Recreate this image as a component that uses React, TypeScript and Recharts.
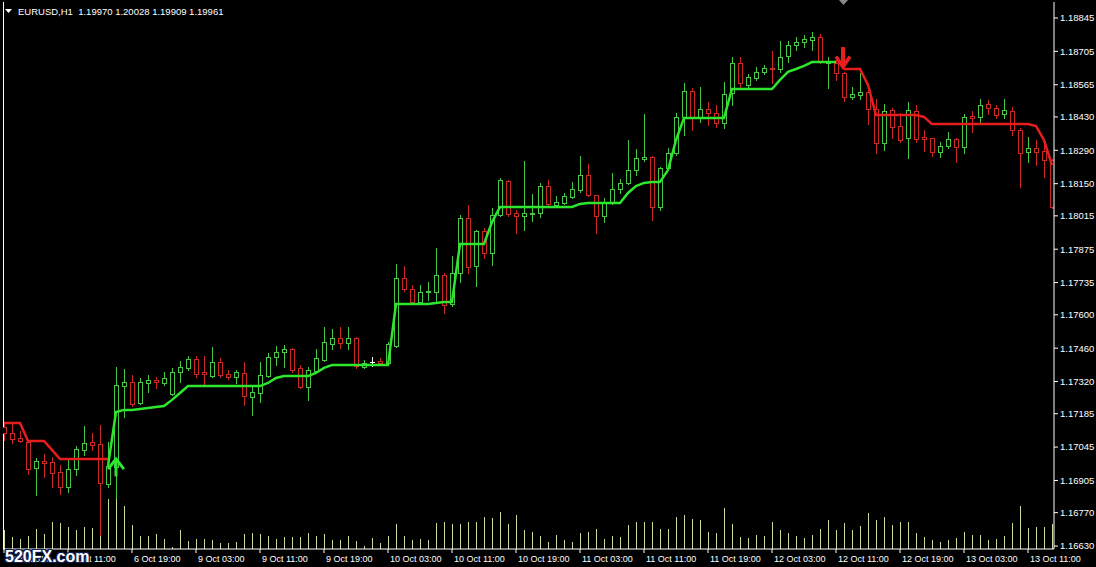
import React from 'react';
import { ComposedChart, Bar, Line, Scatter, XAxis, YAxis } from 'recharts';

// ---- Data (EURUSD H1) ----
const opens = [
  1.17129, 1.17104, 1.17083, 1.17066, 1.16957, 1.16987, 1.16982, 1.16941, 1.16878, 1.16953,
  1.17033, 1.17066, 1.17058, 1.16890, 1.16961, 1.17301, 1.17318, 1.17230, 1.17314, 1.17326,
  1.17314, 1.17268, 1.17360, 1.17377, 1.17415, 1.17360, 1.17343, 1.17402, 1.17352, 1.17339,
  1.17356, 1.17255, 1.17272, 1.17343, 1.17423, 1.17444, 1.17457, 1.17377, 1.17297, 1.17364,
  1.17410, 1.17477, 1.17503, 1.17482, 1.17503, 1.17381, 1.17402, 1.17406, 1.17398, 1.17469,
  1.17754, 1.17708, 1.17654, 1.17696, 1.17696, 1.17767, 1.17645, 1.17775, 1.18006, 1.17805,
  1.17952, 1.17859, 1.18019, 1.18161, 1.18027, 1.18014, 1.18023, 1.18027, 1.18140, 1.18061,
  1.18069, 1.18094, 1.18124, 1.18186, 1.18103, 1.18014, 1.18069, 1.18128, 1.18153, 1.18207,
  1.18254, 1.18262, 1.18052, 1.18216, 1.18279, 1.18430, 1.18539, 1.18430, 1.18463, 1.18447,
  1.18405, 1.18530, 1.18656, 1.18564, 1.18593, 1.18619, 1.18635, 1.18631, 1.18686, 1.18732,
  1.18744, 1.18753, 1.18765, 1.18656, 1.18656, 1.18614, 1.18514, 1.18522, 1.18535, 1.18463,
  1.18321, 1.18459, 1.18392, 1.18342, 1.18455, 1.18346, 1.18342, 1.18283, 1.18308, 1.18337,
  1.18304, 1.18434, 1.18430, 1.18484, 1.18468, 1.18442, 1.18455, 1.18375, 1.18283, 1.18300,
  1.18287, 1.18249,
];
const highs = [
  1.17146, 1.17142, 1.17113, 1.17071, 1.16999, 1.17016, 1.17003, 1.16970, 1.16995, 1.17050,
  1.17133, 1.17104, 1.17138, 1.17066, 1.17381, 1.17373, 1.17347, 1.17335, 1.17347, 1.17339,
  1.17360, 1.17377, 1.17406, 1.17427, 1.17427, 1.17427, 1.17465, 1.17419, 1.17368, 1.17368,
  1.17402, 1.17297, 1.17402, 1.17440, 1.17469, 1.17473, 1.17461, 1.17389, 1.17381, 1.17457,
  1.17549, 1.17540, 1.17549, 1.17549, 1.17507, 1.17410, 1.17423, 1.17419, 1.17486, 1.17813,
  1.17805, 1.17725, 1.17725, 1.17738, 1.17880, 1.17775, 1.17847, 1.18019, 1.18061, 1.17956,
  1.17964, 1.18048, 1.18174, 1.18165, 1.18040, 1.18245, 1.18107, 1.18153, 1.18165, 1.18098,
  1.18111, 1.18157, 1.18266, 1.18233, 1.18103, 1.18090, 1.18195, 1.18170, 1.18333, 1.18296,
  1.18442, 1.18266, 1.18220, 1.18300, 1.18447, 1.18572, 1.18551, 1.18556, 1.18493, 1.18480,
  1.18577, 1.18681, 1.18681, 1.18610, 1.18640, 1.18648, 1.18707, 1.18749, 1.18749, 1.18765,
  1.18774, 1.18786, 1.18778, 1.18681, 1.18677, 1.18619, 1.18556, 1.18614, 1.18556, 1.18505,
  1.18484, 1.18468, 1.18447, 1.18493, 1.18480, 1.18375, 1.18342, 1.18325, 1.18367, 1.18342,
  1.18442, 1.18455, 1.18505, 1.18501, 1.18480, 1.18505, 1.18472, 1.18384, 1.18346, 1.18333,
  1.18321, 1.18254,
];
const lows = [
  1.17075, 1.17062, 1.17066, 1.16932, 1.16844, 1.16920, 1.16878, 1.16848, 1.16857, 1.16928,
  1.17012, 1.17033, 1.16676, 1.16878, 1.16831, 1.17171, 1.17217, 1.17226, 1.17276, 1.17293,
  1.17305, 1.17264, 1.17318, 1.17368, 1.17339, 1.17305, 1.17339, 1.17339, 1.17331, 1.17314,
  1.17222, 1.17180, 1.17234, 1.17339, 1.17389, 1.17381, 1.17360, 1.17293, 1.17243, 1.17360,
  1.17406, 1.17457, 1.17461, 1.17457, 1.17377, 1.17377, 1.17385, 1.17389, 1.17394, 1.17465,
  1.17700, 1.17649, 1.17649, 1.17662, 1.17654, 1.17608, 1.17637, 1.17738, 1.17775, 1.17721,
  1.17838, 1.17809, 1.18014, 1.18014, 1.17943, 1.17956, 1.17993, 1.18010, 1.18056, 1.18056,
  1.18065, 1.18090, 1.18115, 1.18098, 1.17943, 1.17989, 1.18065, 1.18111, 1.18149, 1.18186,
  1.18245, 1.17998, 1.18040, 1.18207, 1.18270, 1.18354, 1.18375, 1.18409, 1.18396, 1.18388,
  1.18384, 1.18480, 1.18551, 1.18547, 1.18585, 1.18610, 1.18572, 1.18619, 1.18660, 1.18711,
  1.18723, 1.18711, 1.18656, 1.18551, 1.18585, 1.18497, 1.18505, 1.18505, 1.18400, 1.18279,
  1.18291, 1.18342, 1.18325, 1.18258, 1.18325, 1.18287, 1.18266, 1.18262, 1.18300, 1.18241,
  1.18279, 1.18367, 1.18409, 1.18442, 1.18426, 1.18426, 1.18354, 1.18136, 1.18241, 1.18228,
  1.18178, 1.18048,
];
const closes = [
  1.17104, 1.17079, 1.17071, 1.16953, 1.16987, 1.16978, 1.16936, 1.16878, 1.16953, 1.17037,
  1.17062, 1.17054, 1.16894, 1.16966, 1.17305, 1.17318, 1.17226, 1.17318, 1.17326, 1.17318,
  1.17335, 1.17360, 1.17381, 1.17415, 1.17352, 1.17352, 1.17402, 1.17347, 1.17339, 1.17360,
  1.17259, 1.17276, 1.17347, 1.17423, 1.17444, 1.17457, 1.17368, 1.17297, 1.17368, 1.17419,
  1.17486, 1.17503, 1.17482, 1.17503, 1.17385, 1.17398, 1.17402, 1.17398, 1.17477, 1.17754,
  1.17708, 1.17654, 1.17696, 1.17700, 1.17767, 1.17641, 1.17775, 1.18006, 1.17800, 1.17952,
  1.17859, 1.18019, 1.18165, 1.18023, 1.18014, 1.18027, 1.18027, 1.18140, 1.18065, 1.18073,
  1.18098, 1.18128, 1.18186, 1.18103, 1.18014, 1.18073, 1.18128, 1.18153, 1.18207, 1.18258,
  1.18262, 1.18052, 1.18216, 1.18279, 1.18430, 1.18539, 1.18430, 1.18463, 1.18447, 1.18405,
  1.18526, 1.18656, 1.18572, 1.18598, 1.18619, 1.18635, 1.18631, 1.18681, 1.18732, 1.18744,
  1.18757, 1.18765, 1.18660, 1.18660, 1.18614, 1.18514, 1.18526, 1.18535, 1.18463, 1.18321,
  1.18455, 1.18388, 1.18333, 1.18459, 1.18337, 1.18337, 1.18283, 1.18308, 1.18337, 1.18304,
  1.18430, 1.18426, 1.18480, 1.18468, 1.18438, 1.18459, 1.18375, 1.18279, 1.18300, 1.18283,
  1.18249, 1.18052,
];
const volumes = [
  372, 232, 196, 266, 408, 300, 534, 512, 440, 372,
  440, 420, 600, 1000, 1040, 860, 480, 266, 266, 300,
  210, 40, 386, 160, 196, 196, 182, 112, 112, 140,
  300, 320, 300, 266, 196, 232, 232, 246, 320, 266,
  300, 182, 182, 252, 160, 70, 218, 112, 252, 492,
  252, 182, 196, 176, 512, 534, 492, 492, 534, 534,
  640, 618, 744, 492, 688, 372, 350, 266, 140, 280,
  182, 140, 320, 350, 408, 196, 266, 246, 478, 534,
  534, 534, 392, 408, 640, 688, 596, 576, 336, 316,
  814, 492, 246, 218, 280, 266, 534, 372, 316, 266,
  218, 288, 408, 582, 386, 512, 386, 456, 722, 582,
  640, 478, 534, 534, 322, 246, 182, 140, 182, 218,
  350, 288, 288, 182, 196, 252, 512, 864, 428, 442,
  442, 492,
];
const N = null;
const trendUp = [
  N, N, N, N, N, N, N, N, N, N,
  N, N, N, 1.16966, 1.17192, 1.17201, 1.17201, 1.17205, 1.17209, 1.17213,
  1.17217, 1.17243, 1.17272, 1.17301, 1.17301, 1.17301, 1.17301, 1.17301, 1.17301, 1.17301,
  1.17301, 1.17301, 1.17301, 1.17314, 1.17335, 1.17343, 1.17343, 1.17343, 1.17343, 1.17356,
  1.17377, 1.17389, 1.17389, 1.17389, 1.17389, 1.17389, 1.17389, 1.17389, 1.17389, 1.17645,
  1.17645, 1.17645, 1.17645, 1.17645, 1.17649, 1.17654, 1.17654, 1.17897, 1.17897, 1.17897,
  1.17897, 1.17989, 1.18052, 1.18052, 1.18052, 1.18052, 1.18052, 1.18052, 1.18052, 1.18052,
  1.18052, 1.18052, 1.18065, 1.18069, 1.18069, 1.18069, 1.18069, 1.18069, 1.18111, 1.18140,
  1.18153, 1.18157, 1.18157, 1.18207, 1.18333, 1.18426, 1.18426, 1.18426, 1.18426, 1.18426,
  1.18426, 1.18547, 1.18547, 1.18547, 1.18547, 1.18547, 1.18547, 1.18585, 1.18619, 1.18631,
  1.18644, 1.18660, 1.18660, 1.18660, 1.18660, N, N, N, N, N,
  N, N, N, N, N, N, N, N, N, N,
  N, N, N, N, N, N, N, N, N, N,
  N, N,
];
const trendDown = [
  1.17146, 1.17146, 1.17146, 1.17071, 1.17071, 1.17071, 1.17033, 1.16995, 1.16995, 1.16995,
  1.16995, 1.16995, 1.16995, 1.16995, N, N, N, N, N, N,
  N, N, N, N, N, N, N, N, N, N,
  N, N, N, N, N, N, N, N, N, N,
  N, N, N, N, N, N, N, N, N, N,
  N, N, N, N, N, N, N, N, N, N,
  N, N, N, N, N, N, N, N, N, N,
  N, N, N, N, N, N, N, N, N, N,
  N, N, N, N, N, N, N, N, N, N,
  N, N, N, N, N, N, N, N, N, N,
  N, N, N, N, N, 1.18631, 1.18631, 1.18631, 1.18564, 1.18438,
  1.18438, 1.18438, 1.18438, 1.18438, 1.18438, 1.18430, 1.18400, 1.18400, 1.18400, 1.18400,
  1.18400, 1.18400, 1.18400, 1.18400, 1.18400, 1.18400, 1.18400, 1.18400, 1.18400, 1.18392,
  1.18333, 1.18228,
];
const timeTickIndex = [0, 8, 16, 24, 32, 40, 48, 56, 64, 72, 80, 88, 96, 104, 112, 120, 128];
const timeTickLabels = [
  '6 Oct 2017', '6 Oct 11:00', '6 Oct 19:00', '9 Oct 03:00', '9 Oct 11:00', '9 Oct 19:00',
  '10 Oct 03:00', '10 Oct 11:00', '10 Oct 19:00', '11 Oct 03:00', '11 Oct 11:00', '11 Oct 19:00',
  '12 Oct 03:00', '12 Oct 11:00', '12 Oct 19:00', '13 Oct 03:00', '13 Oct 11:00',
];
const priceTicks = [
  1.18845, 1.18705, 1.18565, 1.1843, 1.1829, 1.1815, 1.18015, 1.17875, 1.17735,
  1.176, 1.1746, 1.1732, 1.17185, 1.17045, 1.16905, 1.1677, 1.1663,
];
const buySignal = [{ i: 14, price: 1.16966 }];
const sellSignal = [{ i: 105, price: 1.18677 }];
const titleText = 'EURUSD,H1  1.19970 1.20028 1.19909 1.19961';
const watermark = '520FX.com';

const PRICE_DOMAIN: [number, number] = [1.166175, 1.189121];
const VOL_DOMAIN: [number, number] = [0, 10940];
const X_DOMAIN: [number, number] = [-0.125, 131.25];

const UP = '#46c846';
const DOWN = '#cf2626';
const DOJI = '#ffffff';
const LINE_UP = '#2ee62e';
const LINE_DOWN = '#e81e1e';
const VOL = '#c9dc9c';
const FONT = '"Liberation Sans", Arial, sans-serif';

const data = opens.map((o, i) => ({
  i,
  open: o,
  high: highs[i],
  low: lows[i],
  close: closes[i],
  volume: volumes[i],
  up: trendUp[i],
  dn: trendDown[i],
}));

const Candle = (props: any) => {
  const { x, y, width, height, payload } = props;
  if (!payload || x == null || y == null) return null;
  const cx = Math.round(x + width / 2);
  const top = Math.min(y, y + height);
  const h = Math.abs(height);
  const { open, high, low, close } = payload;
  const range = high - low || 1;
  const toY = (v: number) => top + ((high - v) / range) * h;
  const yo = toY(open);
  const yc = toY(close);
  const color = close > open ? UP : close < open ? DOWN : DOJI;
  const bTop = Math.round(Math.min(yo, yc));
  const bBot = Math.round(Math.max(yo, yc));
  return (
    <g shapeRendering="crispEdges">
      <line x1={cx + 0.5} x2={cx + 0.5} y1={Math.round(top)} y2={Math.round(top + h) + 1} stroke={color} strokeWidth={1} />
      {bBot - bTop >= 1 ? (
        <rect x={cx - 1.5} y={bTop + 0.5} width={4} height={bBot - bTop} fill="#000" stroke={color} strokeWidth={1} />
      ) : (
        <line x1={cx - 2} x2={cx + 3} y1={bTop + 0.5} y2={bTop + 0.5} stroke={color} strokeWidth={1} />
      )}
    </g>
  );
};

const VolumeBar = (props: any) => {
  const { x, y, width, height } = props;
  if (x == null || y == null) return null;
  const cx = Math.round(x + width / 2);
  return (
    <line x1={cx + 0.5} x2={cx + 0.5} y1={y} y2={y + height} stroke={VOL} strokeWidth={1} shapeRendering="crispEdges" />
  );
};

const UpArrow = (props: any) => {
  const { cx, cy } = props;
  if (cx == null || cy == null) return null;
  return (
    <g stroke={LINE_UP} fill="none" strokeLinecap="square" strokeLinejoin="miter">
      <line x1={cx} x2={cx} y1={cy - 6} y2={cy + 9} strokeWidth={3} />
      <polyline points={`${cx - 7},${cy + 2} ${cx},${cy - 7} ${cx + 7},${cy + 2}`} strokeWidth={3} />
    </g>
  );
};

const DownArrow = (props: any) => {
  const { cx, cy } = props;
  if (cx == null || cy == null) return null;
  const c = cx - 1;
  return (
    <g stroke={LINE_DOWN} fill="none" strokeLinecap="square" strokeLinejoin="miter">
      <line x1={c} x2={c} y1={cy - 9} y2={cy + 5} strokeWidth={4} />
      <polyline points={`${c - 6},${cy} ${c},${cy + 9} ${c + 6},${cy}`} strokeWidth={3.5} />
    </g>
  );
};

const TimeTick = (props: any) => {
  const { x, y, payload } = props;
  const idx = timeTickIndex.indexOf(payload.value);
  const label = idx >= 0 ? timeTickLabels[idx] : '';
  return (
    <text x={x + 2} y={y} dy={6.5} fill="#ffffff" fontSize={9} fontFamily={FONT} textAnchor="start">
      {label}
    </text>
  );
};

export default function App() {
  return (
    <div
      style={{
        position: 'fixed',
        left: 0,
        top: 0,
        width: 1096,
        height: 567,
        background: '#000',
        overflow: 'hidden',
        fontFamily: FONT,
      }}
    >
      <div style={{ position: 'absolute', left: 3, top: 2, width: 1, height: 547, background: '#fff' }} />
      <div style={{ position: 'absolute', left: 0, top: 0 }}>
        <ComposedChart width={1096} height={567} data={data} margin={{ top: 2, right: 0, bottom: 0, left: 3 }}>
          <XAxis
            type="number"
            dataKey="i"
            domain={X_DOMAIN}
            allowDataOverflow
            ticks={timeTickIndex}
            interval={0}
            tick={<TimeTick />}
            tickSize={4}
            tickLine={{ stroke: '#fff' }}
            axisLine={{ stroke: '#fff' }}
            height={18}
          />
          <XAxis xAxisId="v" type="number" dataKey="i" domain={X_DOMAIN} allowDataOverflow hide />
          <YAxis
            yAxisId="p"
            orientation="right"
            type="number"
            domain={PRICE_DOMAIN}
            allowDataOverflow
            ticks={priceTicks}
            interval={0}
            tickFormatter={(v: number) => v.toFixed(5)}
            tick={{ fill: '#ffffff', fontSize: 9.5, fontFamily: FONT }}
            tickSize={4}
            tickLine={{ stroke: '#fff' }}
            axisLine={{ stroke: '#fff' }}
            width={42}
          />
          <YAxis yAxisId="vol" type="number" domain={VOL_DOMAIN} allowDataOverflow hide />
          <Bar
            xAxisId="v"
            yAxisId="vol"
            dataKey="volume"
            barSize={1}
            shape={<VolumeBar />}
            isAnimationActive={false}
          />
          <Bar
            yAxisId="p"
            dataKey={(d: any) => [d.low, d.high]}
            barSize={5}
            shape={<Candle />}
            isAnimationActive={false}
          />
          <Line
            yAxisId="p"
            dataKey="dn"
            stroke={LINE_DOWN}
            strokeWidth={2.5}
            dot={false}
            activeDot={false}
            connectNulls={false}
            type="linear"
            isAnimationActive={false}
          />
          <Line
            yAxisId="p"
            dataKey="up"
            stroke={LINE_UP}
            strokeWidth={2.5}
            dot={false}
            activeDot={false}
            connectNulls={false}
            type="linear"
            isAnimationActive={false}
          />
          <Scatter yAxisId="p" data={buySignal} dataKey="price" shape={<UpArrow />} isAnimationActive={false} />
          <Scatter yAxisId="p" data={sellSignal} dataKey="price" shape={<DownArrow />} isAnimationActive={false} />
        </ComposedChart>
      </div>
      <svg style={{ position: 'absolute', left: 0, top: 0 }} width={1096} height={20}>
        <polygon points="5,9 12,9 8.5,13" fill="#fff" />
        <polygon points="839,0 848,0 843.5,5" fill="#8a8a8a" />
      </svg>
      <div
        style={{
          position: 'absolute',
          left: 18,
          top: 6,
          fontSize: 9.5,
          lineHeight: '11px',
          color: '#ffffff',
          whiteSpace: 'pre',
        }}
      >
        {titleText}
      </div>
      <div
        style={{
          position: 'absolute',
          left: 5,
          top: 547,
          fontSize: 16,
          lineHeight: '19px',
          fontWeight: 'bold',
          color: '#ffffff',
          whiteSpace: 'pre',
          textShadow: '1px 1px 0 #102050, -1px -1px 0 #102050, 1px -1px 0 #102050, -1px 1px 0 #102050',
        }}
      >
        {watermark}
      </div>
    </div>
  );
}
